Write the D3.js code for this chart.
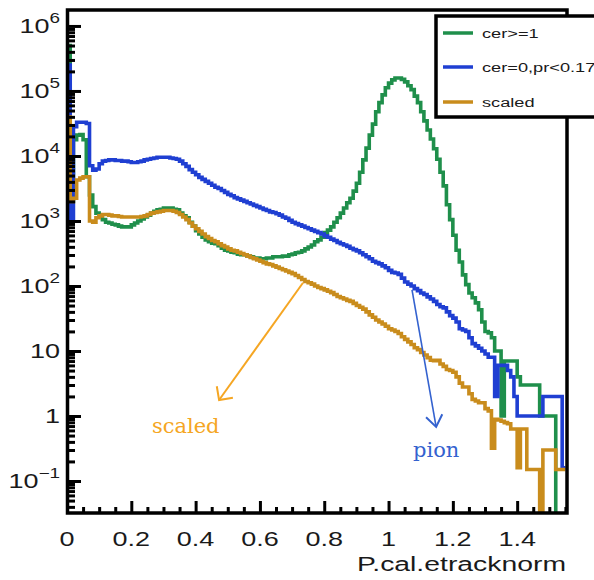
<!DOCTYPE html>
<html><head><meta charset="utf-8">
<script src="https://cdn.jsdelivr.net/npm/d3@7"></script>
<style>html,body{margin:0;padding:0;background:#fff;} svg{display:block}</style>
</head><body>
<svg id="chart" width="594" height="580"></svg>
<script>
// ---------- data ----------
const binWidth = 0.01;           // histogram bins start at 0
const xDomain = [0, 1.555];
const yDomain = [0.0322, 1.76e6];
const xTickValues = [0, 0.2, 0.4, 0.6, 0.8, 1, 1.2, 1.4];
const xTickLabels = ["0", "0.2", "0.4", "0.6", "0.8", "1", "1.2", "1.4"];
const yTickValues = [0.1, 1, 10, 100, 1e3, 1e4, 1e5, 1e6];
const yTickBase = ["10", "1", "10", "10", "10", "10", "10", "10"];
const yTickExp = ["\u22121", "", "", "2", "3", "4", "5", "6"];
const xAxisTitle = "P.cal.etracknorm";
const seriesNames = ["cer>=1", "cer=0,pr<0.17", "scaled"];

const greenCounts = [500000, 2000, 17800, 20900, 21400, 17800, 4790, 2510, 1660, 1320,
 1230, 1050, 955, 933, 891, 871, 832, 813, 813, 813,
 871, 933, 1000, 1070, 1150, 1230, 1320, 1410, 1480, 1510,
 1580, 1580, 1580, 1510, 1480, 1320, 1200, 1120, 955, 832,
 708, 631, 562, 513, 479, 457, 447, 417, 380, 355,
 347, 331, 324, 309, 302, 302, 288, 282, 269, 269,
 263, 263, 269, 269, 282, 282, 282, 288, 288, 302,
 309, 324, 331, 347, 372, 398, 427, 479, 513, 562,
 661, 724, 813, 955, 1120, 1320, 1580, 1910, 2240, 2880,
 3800, 5620, 8710, 13200, 20900, 30900, 47900, 66100, 87100, 112000,
 132000, 148000, 158000, 158000, 151000, 138000, 120000, 105000, 83200, 66100,
 47900, 34700, 25100, 18200, 12900, 8910, 5620, 3470, 1780, 1050,
 603, 355, 234, 148, 105, 78, 66, 55, 43, 28,
 20, 19, 16, 10, 10, 1, 7, 7, 7, 7,
 4, 3, 3, 3, 3, 3, 3, 1, 1, 1,
 1, 1, 0, 0, 0];

const blueCounts = [251000, 1000, 28200, 33100, 33100, 33100, 31600, 7080, 6030, 6310,
 7590, 8320, 8510, 8710, 8710, 8510, 8510, 8320, 8320, 8130,
 7940, 7940, 8130, 8320, 8710, 8910, 9120, 9330, 9550, 9550,
 9550, 9550, 9330, 9120, 8910, 8320, 7590, 6920, 6170, 5620,
 5130, 4680, 4370, 4070, 3800, 3550, 3310, 3160, 2950, 2750,
 2570, 2450, 2290, 2190, 2090, 2000, 1910, 1820, 1740, 1660,
 1580, 1510, 1450, 1380, 1350, 1290, 1230, 1150, 1100, 1020,
 955, 912, 871, 832, 794, 759, 724, 692, 661, 631,
 589, 562, 525, 501, 468, 447, 427, 407, 380, 363,
 347, 324, 302, 282, 263, 240, 229, 219, 204, 191,
 174, 162, 158, 151, 132, 115, 107, 100, 91, 85,
 78, 74, 68, 63, 58, 52, 48, 46, 40, 35,
 32, 28, 22, 21, 20, 16, 13, 12, 11, 10,
 9, 8, 8, 2, 6, 6, 6, 5, 4, 2,
 1, 1, 1, 1, 1, 1, 1, 1, 2, 2,
 2, 2, 2, 2, 0.16];

const orangeCounts = [39800, 2000, 2240, 4270, 4570, 4790, 4790, 1000, 955, 1120,
 1200, 1260, 1260, 1230, 1200, 1200, 1170, 1150, 1150, 1150,
 1150, 1150, 1150, 1170, 1200, 1260, 1320, 1350, 1380, 1410,
 1450, 1450, 1450, 1410, 1350, 1260, 1150, 1050, 933, 832,
 759, 692, 631, 575, 537, 501, 479, 447, 417, 398,
 372, 355, 347, 331, 316, 302, 288, 275, 263, 251,
 240, 229, 219, 214, 204, 195, 186, 178, 170, 162,
 155, 145, 135, 126, 117, 112, 107, 100, 95, 91,
 87, 83, 79, 74, 69, 66, 63, 60, 58, 54,
 50, 47, 44, 40, 36, 33, 30, 28, 26, 24,
 22, 21, 20, 18.6, 16.6, 15.1, 13.8, 12.6, 11.2, 10.5,
 9.5, 8.7, 7.9, 7.2, 7.1, 7.2, 6.3, 5.8, 5.2, 5.0,
 4.7, 4.0, 3.2, 2.8, 2.8, 2.2, 1.8, 1.7, 1.6, 1.6,
 1.3, 1.2, 0.32, 0.89, 0.87, 0.83, 0.79, 0.76, 0.63, 0.63,
 0.16, 0.63, 0.63, 0.15, 0.15, 0.15, 0.15, 0, 0.3, 0.3,
 0.3, 0.3, 0.15, 0.15, 0.15];

const seriesColors = ["#1f8f4b", "#1f3fd2", "#c98c1c"];

// annotations (data coordinates)
const annotScaled = {from: [0.734, 112], to: [0.473, 1.76], text: "scaled", at: [0.264, 0.55], color: "#f5a623", head: 45};
const annotPion = {from: [1.073, 87], to: [1.148, 0.68], text: "pion", at: [1.076, 0.234], color: "#3462cf", head: 36};

// ---------- drawing ----------
const svg = d3.select("#chart");
const x = d3.scaleLinear().domain(xDomain).range([67, 567]);
const y = d3.scaleLog().domain(yDomain).range([513, 10]);
const SX = 1.35;
const sans = "'Liberation Sans', Arial, Helvetica, sans-serif";

svg.append("defs").append("clipPath").attr("id", "plotclip")
  .append("rect").attr("x", 67).attr("y", 10).attr("width", 500).attr("height", 503);

function stepPoints(vals) {
  const bottom = 540;
  const pts = [[x(0), bottom]];
  vals.forEach((v, i) => {
    const yy = v > 0 ? y(v) : bottom;
    pts.push([x(i * binWidth), yy], [x((i + 1) * binWidth), yy]);
  });
  return pts;
}

const lineGen = d3.line();
const plot = svg.append("g").attr("clip-path", "url(#plotclip)");
[greenCounts, blueCounts, orangeCounts].forEach((vals, k) => {
  plot.append("path")
    .attr("d", lineGen(stepPoints(vals)))
    .attr("fill", "none")
    .attr("stroke", seriesColors[k])
    .attr("stroke-width", 3.6)
    .attr("stroke-linejoin", "miter");
});

// axes ticks (inward)
const xMinor = d3.range(1, 32).map(i => i * 0.05).filter(v => Math.abs(v / 0.2 - Math.round(v / 0.2)) > 1e-6 && v < 1.555);
function tickStyle(g) {
  g.select(".domain").remove();
  g.selectAll(".tick line").attr("stroke", "#000").attr("stroke-width", 3);
}
svg.append("g").attr("transform", "translate(0,513)")
  .call(d3.axisBottom(x).tickValues(xTickValues).tickSize(-12).tickFormat(""))
  .call(tickStyle);
svg.append("g").attr("transform", "translate(0,513)")
  .call(d3.axisBottom(x).tickValues(xMinor).tickSize(-6).tickFormat(""))
  .call(tickStyle);

const yMinor = [];
for (let e = -2; e <= 6; e++) for (let m = 2; m <= 9; m++) {
  const v = m * Math.pow(10, e);
  if (v > yDomain[0] && v < yDomain[1]) yMinor.push(v);
}
svg.append("g").attr("transform", "translate(68,0)")
  .call(d3.axisLeft(y).tickValues(yTickValues).tickSize(-13).tickFormat(""))
  .call(tickStyle);
svg.append("g").attr("transform", "translate(68,0)")
  .call(d3.axisLeft(y).tickValues(yMinor).tickSize(-7).tickFormat(""))
  .call(tickStyle);

// frame
svg.append("rect").attr("x", 67.5).attr("y", 10).attr("width", 499.5).attr("height", 503)
  .attr("fill", "none").attr("stroke", "#000").attr("stroke-width", 3.5);

// x tick labels
xTickValues.forEach((v, i) => {
  svg.append("g").attr("transform", `translate(${x(v)},546) scale(${SX},1)`)
    .append("text").attr("text-anchor", "middle")
    .attr("font-family", sans).attr("font-size", 20).attr("fill", "#1a1a1a")
    .text(xTickLabels[i]);
});
// y tick labels
yTickValues.forEach((v, i) => {
  const t = svg.append("g").attr("transform", `translate(60,${y(v) + 7}) scale(${SX},1)`)
    .append("text").attr("text-anchor", "end")
    .attr("font-family", sans).attr("font-size", 20).attr("fill", "#1a1a1a");
  t.append("tspan").text(yTickBase[i]);
  if (yTickExp[i]) t.append("tspan").attr("dy", -10).attr("font-size", 14).text(yTickExp[i]);
});
// x axis title
svg.append("g").attr("transform", `translate(566,571) scale(${SX},1)`)
  .append("text").attr("text-anchor", "end")
  .attr("font-family", sans).attr("font-size", 21).attr("fill", "#1a1a1a")
  .text(xAxisTitle);

// legend
const leg = svg.append("g");
leg.append("rect").attr("x", 436).attr("y", 16).attr("width", 200).attr("height", 101)
  .attr("fill", "#fff").attr("stroke", "#000").attr("stroke-width", 3.5);
const legY = [33, 67, 102];
seriesNames.forEach((name, k) => {
  leg.append("line").attr("x1", 443).attr("x2", 473).attr("y1", legY[k]).attr("y2", legY[k])
    .attr("stroke", seriesColors[k]).attr("stroke-width", 3.5);
  leg.append("g").attr("transform", `translate(482,${legY[k] + 5}) scale(${SX},1)`)
    .append("text").attr("font-family", sans).attr("font-size", 13.5).attr("fill", "#1a1a1a")
    .text(name);
});

// annotations
const defs = svg.select("defs");
[annotScaled, annotPion].forEach((a, k) => {
  const id = "arrow" + k;
  const L = 14, ang = a.head * Math.PI / 180;
  const dx = -L * Math.cos(ang), dy = L * Math.sin(ang);
  defs.append("marker").attr("id", id).attr("viewBox", "-16 -12 18 24")
    .attr("refX", 0).attr("refY", 0).attr("markerWidth", 18).attr("markerHeight", 24)
    .attr("markerUnits", "userSpaceOnUse").attr("orient", "auto")
    .append("path").attr("d", `M${dx},${-dy} L0,0 L${dx},${dy}`).attr("fill", "none")
    .attr("stroke", a.color).attr("stroke-width", 2);
  svg.append("line")
    .attr("x1", x(a.from[0])).attr("y1", y(a.from[1]))
    .attr("x2", x(a.to[0])).attr("y2", y(a.to[1]))
    .attr("stroke", a.color).attr("stroke-width", k === 0 ? 2 : 1.6)
    .attr("marker-end", `url(#${id})`);
  svg.append("text").attr("x", x(a.at[0])).attr("y", y(a.at[1]))
    .attr("font-family", "'DejaVu Serif', 'Liberation Serif', serif").attr("font-size", 21)
    .attr("fill", a.color).text(a.text);
});
</script>
</body></html>
